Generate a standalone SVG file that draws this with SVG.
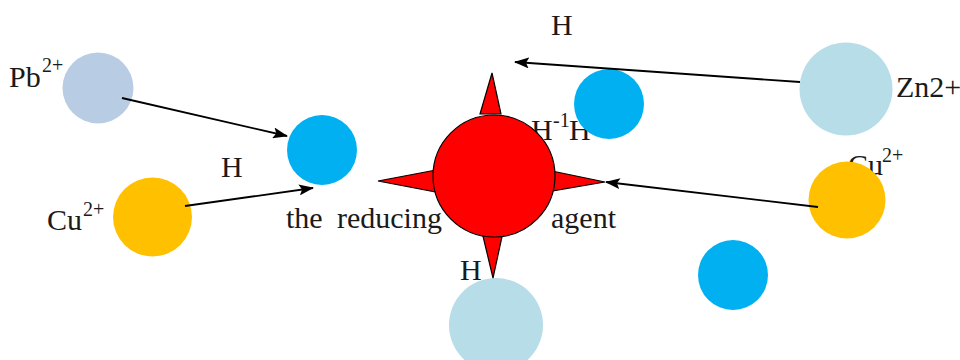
<svg xmlns="http://www.w3.org/2000/svg" width="960" height="360" viewBox="0 0 960 360">
<style>
text{font-family:"Liberation Serif","Times New Roman",serif;font-size:30px;fill:#1a1a1a}
.sup{font-size:20px}
.blue{fill:#00B0F0}
.cu{fill:#FFC000}
.lb{fill:#B7DDE8}
.pb{fill:#B8CCE4}
.red{fill:#FF0000;stroke:#000;stroke-width:1.2}
.arr{stroke:#000;stroke-width:1.8;fill:none;marker-end:url(#ah)}
</style>
<defs>
<marker id="ah" viewBox="0 0 15 11" refX="14" refY="5.5" markerWidth="15" markerHeight="11" markerUnits="userSpaceOnUse" orient="auto">
<path d="M0,0 L15,5.5 L0,11 L3,5.5 Z" fill="#000"/>
</marker>
</defs>
<rect width="960" height="360" fill="#fff"/>
<g id="label-h-top"><text x="551" y="35">H</text></g>
<g id="label-h-left"><text x="221" y="177">H</text></g>
<g id="label-h1h"><text x="531" y="140">H<tspan class="sup" x="553" y="127">-1</tspan><tspan x="569" y="140">H</tspan></text></g>
<g id="label-cu-right"><text x="848" y="175">Cu<tspan class="sup" x="882" y="162">2+</tspan></text></g>
<g id="pb"><circle class="pb" cx="98" cy="88" r="35.5"/><text x="9" y="87">Pb<tspan class="sup" x="42" y="72">2+</tspan></text></g>
<g id="cu-left"><circle class="cu" cx="152.5" cy="217" r="39.5"/><text x="47" y="230">Cu<tspan class="sup" x="83" y="216">2+</tspan></text></g>
<g id="blue-left"><circle class="blue" cx="322" cy="150" r="35"/></g>
<g id="blue-top"><circle class="blue" cx="609" cy="104" r="35"/></g>
<g id="blue-bottom"><circle class="blue" cx="733" cy="275" r="35"/></g>
<g id="zn"><circle class="lb" cx="846" cy="89" r="46.5"/><text x="896" y="97">Zn2+</text></g>
<g id="cu-right"><circle class="cu" cx="847" cy="200" r="38.5"/></g>
<g id="lb-bottom"><circle class="lb" cx="496" cy="325" r="47"/></g>
<g id="reducing-agent">
<polygon class="red" points="480,114 492,73 501,114"/>
<polygon class="red" points="436,170 378,181 436,192"/>
<polygon class="red" points="552,171 605,182 552,191"/>
<polygon class="red" points="482,232 493,278 503,232"/>
<circle class="red" cx="494" cy="176" r="61"/>
<text x="286" y="228">the</text><text x="337" y="228">reducing</text>
<text x="551" y="228">agent</text>
</g>
<g id="label-h-bottom"><text x="460" y="280">H</text></g>
<g id="connectors">
<line class="arr" x1="122" y1="98" x2="287" y2="136"/>
<line class="arr" x1="185" y1="206" x2="313" y2="188"/>
<line class="arr" x1="800" y1="82" x2="515" y2="62"/>
<line class="arr" x1="818" y1="207" x2="606" y2="182"/>
</g>
</svg>
